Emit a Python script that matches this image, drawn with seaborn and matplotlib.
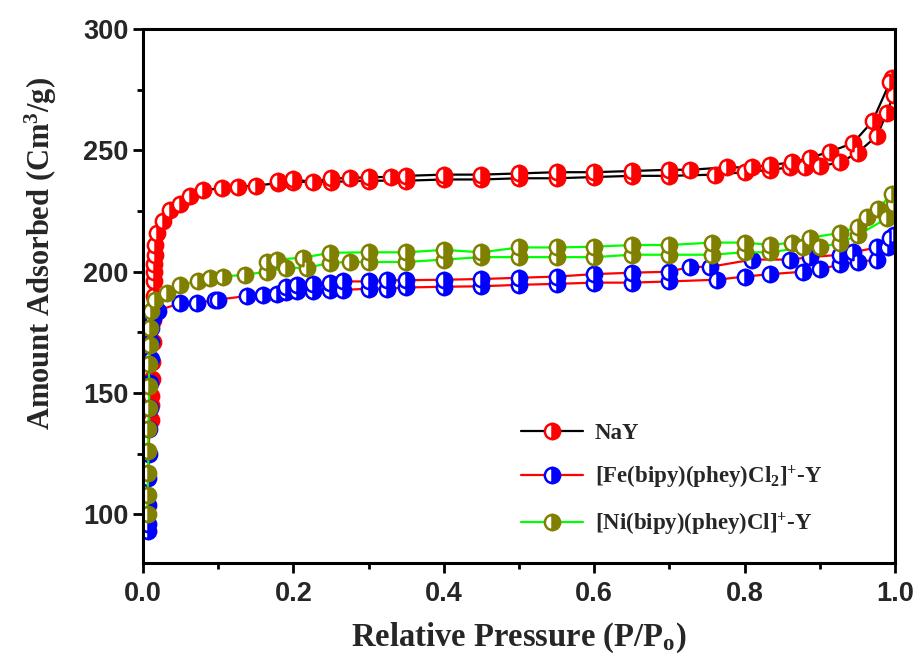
import numpy as np
import pandas as pd
import matplotlib
matplotlib.use('Agg')
import matplotlib.pyplot as plt
import seaborn as sns

# 数据
nay_ads_x = [0.010, 0.011, 0.011, 0.012, 0.012, 0.013, 0.013, 0.014, 0.014, 0.015, 0.015, 0.016, 0.016, 0.018,
             0.027, 0.036, 0.049, 0.062, 0.080, 0.105, 0.126, 0.150, 0.180, 0.200, 0.250, 0.300, 0.350, 0.400,
             0.450, 0.500, 0.550, 0.600, 0.650, 0.700, 0.760, 0.800, 0.834, 0.860, 0.880, 0.900, 0.927, 0.950,
             0.976, 0.989, 0.998]
nay_ads_y = [139, 145, 149, 156, 163, 171, 180, 190, 196, 200, 203, 207, 211, 216,
             221, 225.5, 228, 231, 233.5, 234.5, 235, 235.5, 236.5, 237, 237, 237.5, 237.5, 238,
             238, 238.5, 238.5, 239, 239.5, 239.5, 240, 241, 242, 243, 243, 243.5, 245, 249,
             256, 265.5, 273]
nay_des_x = [0.996, 0.993, 0.970, 0.944, 0.914, 0.887, 0.863, 0.834, 0.810, 0.776, 0.727, 0.700, 0.650,
             0.600, 0.550, 0.500, 0.450, 0.400, 0.350, 0.330, 0.300, 0.275, 0.250, 0.226, 0.200, 0.180]
nay_des_y = [280, 278, 262, 253, 249.5, 247, 245, 244, 243, 243, 242, 242, 241.5,
             241, 241, 240.5, 240, 240, 239.5, 239, 239, 238.5, 238.5, 237, 238, 237.5]

fe_ads_x = [0.006, 0.006, 0.007, 0.007, 0.008, 0.008, 0.009, 0.009, 0.010, 0.010, 0.011, 0.013, 0.020,
            0.049, 0.072, 0.096, 0.100, 0.138, 0.160, 0.178, 0.190, 0.205, 0.226, 0.249, 0.266, 0.300,
            0.324, 0.350, 0.400, 0.450, 0.500, 0.550, 0.600, 0.650, 0.700, 0.763, 0.800, 0.834, 0.878,
            0.900, 0.927, 0.950, 0.976, 0.990, 0.998]
fe_ads_y = [93, 96, 104, 115, 125, 135, 144, 154, 164, 171, 177, 181, 184,
            187, 187, 188.5, 188.5, 190, 190.5, 191, 191.5, 192, 192, 192.5, 192.5, 193,
            193, 193.5, 193.8, 194, 194.6, 195, 195.5, 195.5, 196, 196.7, 198, 199, 200,
            201, 203, 204, 205, 210, 215]
fe_des_x = [0.993, 0.976, 0.944, 0.927, 0.887, 0.860, 0.810, 0.754, 0.727, 0.700, 0.650, 0.600,
            0.550, 0.500, 0.450, 0.400, 0.350, 0.324, 0.300, 0.266, 0.249, 0.226, 0.205, 0.190]
fe_des_y = [214, 210, 208, 207, 206, 205, 205, 202, 202, 200, 199.6, 199,
            198, 197.5, 197, 196.7, 196.5, 196.5, 196, 196, 195.5, 195, 194.5, 193.5]

ni_ads_x = [0.006, 0.006, 0.007, 0.007, 0.007, 0.008, 0.008, 0.008, 0.009, 0.009, 0.010, 0.016,
            0.032, 0.049, 0.073, 0.089, 0.106, 0.136, 0.165, 0.190, 0.218, 0.249, 0.275, 0.300,
            0.350, 0.400, 0.450, 0.500, 0.550, 0.600, 0.650, 0.700, 0.756, 0.800, 0.834, 0.878,
            0.900, 0.927, 0.950, 0.989, 0.998]
ni_ads_y = [100, 108, 117, 126, 135, 144, 153, 162, 170, 177, 184, 188.5,
            191.4, 194.6, 196, 197.5, 198, 198.8, 200, 201.6, 201.6, 203.7, 204, 204,
            204, 205, 206, 206, 206, 206, 207, 207, 207, 208, 208, 210,
            210, 212, 215, 222, 228]
ni_des_x = [0.996, 0.977, 0.962, 0.950, 0.927, 0.887, 0.863, 0.834, 0.800, 0.756, 0.700, 0.650,
            0.600, 0.550, 0.500, 0.450, 0.400, 0.350, 0.300, 0.249, 0.213, 0.178, 0.165]
ni_des_y = [232, 226, 222.6, 218.5, 216, 214, 212, 211, 212, 212, 211, 211,
            210.3, 210, 210, 208, 209, 208, 208, 207.8, 205.8, 205, 204]

labels = ['NaY', r'[Fe(bipy)(phey)Cl$_{2}$]$^{+}$-Y', r'[Ni(bipy)(phey)Cl]$^{+}$-Y']
line_colors = ['black', 'red', '#00ff00']
marker_colors = ['red', 'blue', '#808000']

series = [
    (nay_ads_x + nay_des_x, nay_ads_y + nay_des_y),
    (fe_ads_x + fe_des_x, fe_ads_y + fe_des_y),
    (ni_ads_x + ni_des_x, ni_ads_y + ni_des_y),
]

# 样式设置
sns.set_theme(style='ticks')
plt.rcParams['font.family'] = ['Liberation Sans', 'DejaVu Sans']
plt.rcParams['mathtext.fontset'] = 'custom'
plt.rcParams['mathtext.rm'] = 'Liberation Serif:bold'
plt.rcParams['mathtext.it'] = 'Liberation Serif:bold'
plt.rcParams['mathtext.bf'] = 'Liberation Serif:bold'

fig = plt.figure(figsize=(9.19, 6.56), dpi=100)
ax = fig.add_axes([0.1556, 0.1418, 0.8184, 0.814])

# 吸附-脱附曲线 (吸附支 + 脱附支 连成一条)
for (xs, ys), lab, lc, mc in zip(series, labels, line_colors, marker_colors):
    df = pd.DataFrame({'x': xs, 'y': ys})
    sns.lineplot(data=df, x='x', y='y', sort=False, estimator=None, ax=ax,
                 color=lc, linewidth=1.6, label=lab,
                 marker='o', markersize=11, fillstyle='right',
                 markerfacecolor=mc, markerfacecoloralt='white',
                 markeredgecolor=mc, markeredgewidth=1.8)

ax.set_xlim(0, 1.0)
ax.set_ylim(80, 300)
ax.set_xticks(np.arange(0, 1.01, 0.2))
ax.set_xticks(np.arange(0.1, 1.0, 0.2), minor=True)
ax.set_yticks([100, 150, 200, 250, 300])
ax.set_yticks([125, 175, 225, 275], minor=True)
ax.set_xticklabels([f'{v:.1f}' for v in np.arange(0, 1.01, 0.2)])

for s in ax.spines.values():
    s.set_linewidth(2.2)
    s.set_color('black')
ax.tick_params(axis='both', which='major', direction='out', length=7, width=2,
               labelsize=19.5, color='black')
ax.tick_params(axis='x', which='major', pad=6)
ax.tick_params(axis='both', which='minor', direction='out', length=4, width=2, color='black')
for t in ax.get_xticklabels() + ax.get_yticklabels():
    t.set_fontweight('bold')

ax.set_xlabel(r'Relative Pressure (P/P$_{o}$)', family='Liberation Serif',
              fontweight='bold', fontsize=23.5)
ax.xaxis.set_label_coords(0.5, -0.108)
ax.set_ylabel(r'Amount Adsorbed (Cm$^{3}$/g)', family='Liberation Serif',
              fontweight='bold', fontsize=22)
ax.yaxis.set_label_coords(-0.112, 0.58)

leg = ax.legend(loc='upper left', bbox_to_anchor=(0.503, 0.262), frameon=False,
                prop={'family': 'Liberation Serif', 'weight': 'bold', 'size': 16.5},
                handlelength=2.7, handletextpad=0.5, labelspacing=0.85,
                borderpad=0, borderaxespad=0)

plt.savefig('out.png', dpi=100)
